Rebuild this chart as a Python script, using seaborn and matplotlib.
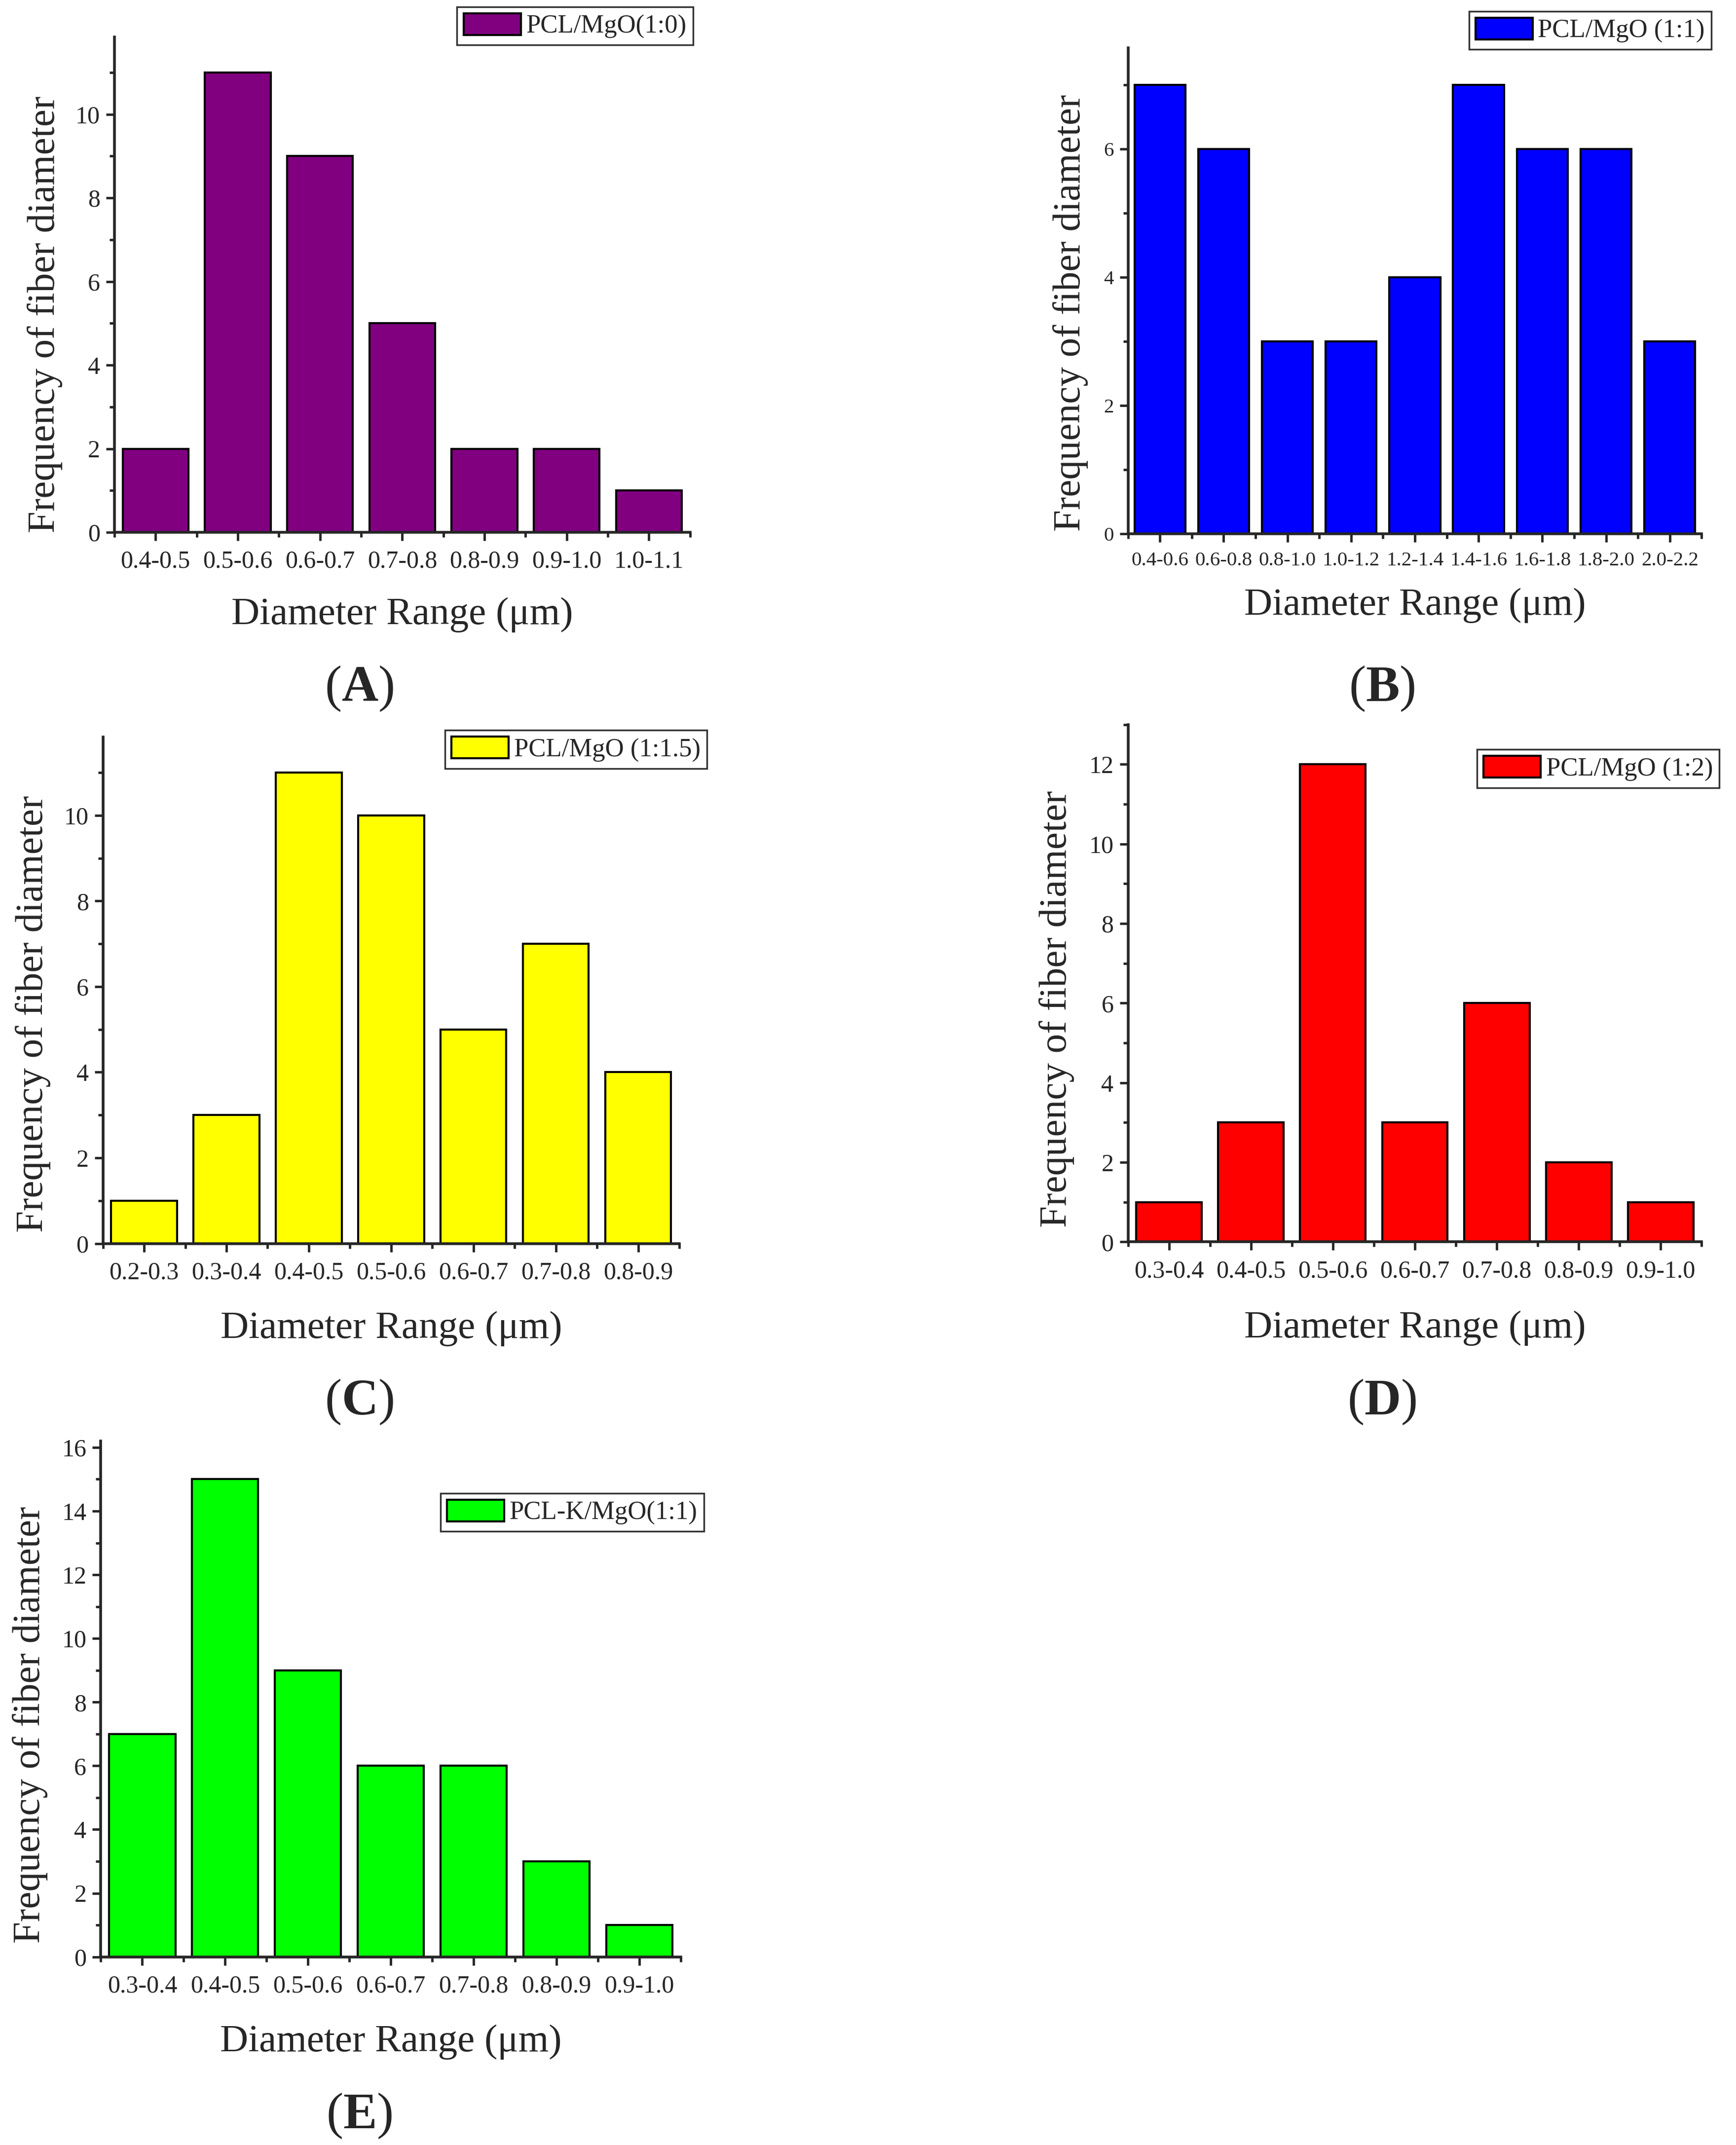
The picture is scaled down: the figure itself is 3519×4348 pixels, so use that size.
import matplotlib
matplotlib.use('Agg')
import matplotlib.pyplot as plt
from matplotlib.ticker import MultipleLocator
import seaborn as sns
import pandas as pd

# --- data ---
ranges_a = ['0.4-0.5', '0.5-0.6', '0.6-0.7', '0.7-0.8', '0.8-0.9', '0.9-1.0', '1.0-1.1']
counts_a = [2, 11, 9, 5, 2, 2, 1]

ranges_b = ['0.4-0.6', '0.6-0.8', '0.8-1.0', '1.0-1.2', '1.2-1.4', '1.4-1.6', '1.6-1.8', '1.8-2.0', '2.0-2.2']
counts_b = [7, 6, 3, 3, 4, 7, 6, 6, 3]

ranges_c = ['0.2-0.3', '0.3-0.4', '0.4-0.5', '0.5-0.6', '0.6-0.7', '0.7-0.8', '0.8-0.9']
counts_c = [1, 3, 11, 10, 5, 7, 4]

ranges_d = ['0.3-0.4', '0.4-0.5', '0.5-0.6', '0.6-0.7', '0.7-0.8', '0.8-0.9', '0.9-1.0']
counts_d = [1, 3, 12, 3, 6, 2, 1]

ranges_e = ['0.3-0.4', '0.4-0.5', '0.5-0.6', '0.6-0.7', '0.7-0.8', '0.8-0.9', '0.9-1.0']
counts_e = [7, 15, 9, 6, 6, 3, 1]

legend_names = ['PCL/MgO(1:0)', 'PCL/MgO (1:1)', 'PCL/MgO (1:1.5)', 'PCL/MgO (1:2)', 'PCL-K/MgO(1:1)']
panel_tags = ['A', 'B', 'C', 'D', 'E']

sns.set_style('ticks')
plt.rcParams['font.family'] = ['Liberation Serif', 'DejaVu Serif']
plt.rcParams['mathtext.fontset'] = 'custom'
plt.rcParams['mathtext.rm'] = 'Liberation Serif'
plt.rcParams['mathtext.bf'] = 'Liberation Serif:bold'

fig = plt.figure(figsize=(35.19, 43.48), dpi=100)

# per panel: axes rect, colour, ylim top, tick font, legend anchor,
# ylabel coords, xlabel offset, tag position
panels = [
    dict(r=ranges_a, v=counts_a, rect=[0.0659, 0.7518, 0.3316, 0.2310], color='#800080', ytop=11.85,
         tfs=36, leg=(1.005, 1.061), yl=(-0.121, 0.44), xl=-0.166, tag=(0.207, 0.679)),
    dict(r=ranges_b, v=counts_b, rect=[0.6498, 0.7511, 0.3304, 0.2265], color='#0000FF', ytop=7.57,
         tfs=29.5, leg=(1.017, 1.076), yl=(-0.10, 0.455), xl=-0.147, tag=(0.796, 0.679)),
    dict(r=ranges_c, v=counts_c, rect=[0.0593, 0.4203, 0.3320, 0.2361], color='#FFFF00', ytop=11.83,
         tfs=36, leg=(1.048, 1.0136), yl=(-0.121, 0.453), xl=-0.168, tag=(0.207, 0.3465)),
    dict(r=ranges_d, v=counts_d, rect=[0.6498, 0.4210, 0.3304, 0.2412], color='#FF0000', ytop=13.0,
         tfs=36, leg=(1.031, 0.952), yl=(-0.124, 0.45), xl=-0.167, tag=(0.796, 0.3465)),
    dict(r=ranges_e, v=counts_e, rect=[0.0581, 0.0877, 0.3340, 0.2405], color='#00FF00', ytop=16.2,
         tfs=36, leg=(1.040, 0.899), yl=(-0.122, 0.45), xl=-0.165, tag=(0.207, 0.0135)),
]

for p, name, tag in zip(panels, legend_names, panel_tags):
    ax = fig.add_axes(p['rect'])
    df = pd.DataFrame({'range': p['r'], 'count': p['v']})
    sns.barplot(data=df, x='range', y='count', color=p['color'], saturation=1,
                edgecolor='black', linewidth=3, width=0.8, label=name, ax=ax)
    n = len(p['r'])
    ax.set_xlim(-0.5, n - 0.5)
    ax.set_ylim(0, p['ytop'])
    ax.yaxis.set_major_locator(MultipleLocator(2))
    ax.yaxis.set_minor_locator(MultipleLocator(1))
    ax.set_xticks([i - 0.5 for i in range(n + 1)], minor=True)

    sns.despine(ax=ax)
    for s in ['left', 'bottom']:
        ax.spines[s].set_linewidth(4)
    ax.tick_params(which='major', length=12, width=3.5, direction='out')
    ax.tick_params(which='minor', length=7, width=3.5, direction='out')
    ax.tick_params(axis='x', which='major', labelsize=p['tfs'], pad=14)
    ax.tick_params(axis='y', which='major', labelsize=p['tfs'], pad=9)

    ax.set_xlabel('Diameter Range (μm)', fontsize=57)
    ax.set_ylabel('Frequency of fiber diameter', fontsize=57)
    ax.xaxis.set_label_coords(0.5, p['xl'])
    ax.xaxis.label.set_va('center')
    ax.yaxis.set_label_coords(p['yl'][0], p['yl'][1])
    ax.yaxis.label.set_va('center')

    leg = ax.legend(loc='upper right', bbox_to_anchor=p['leg'], borderaxespad=0,
                    fontsize=38, frameon=True, fancybox=False, edgecolor='black',
                    handlelength=2.2, handleheight=0.9, handletextpad=0.2, borderpad=0.25)
    leg.get_frame().set_linewidth(2.5)

    fig.text(p['tag'][0], p['tag'][1], r'$\mathrm{(}\mathbf{' + tag + r'}\mathrm{)}$',
             ha='center', va='center', fontsize=74)

fig.savefig('out.png', dpi=100, facecolor='white')
